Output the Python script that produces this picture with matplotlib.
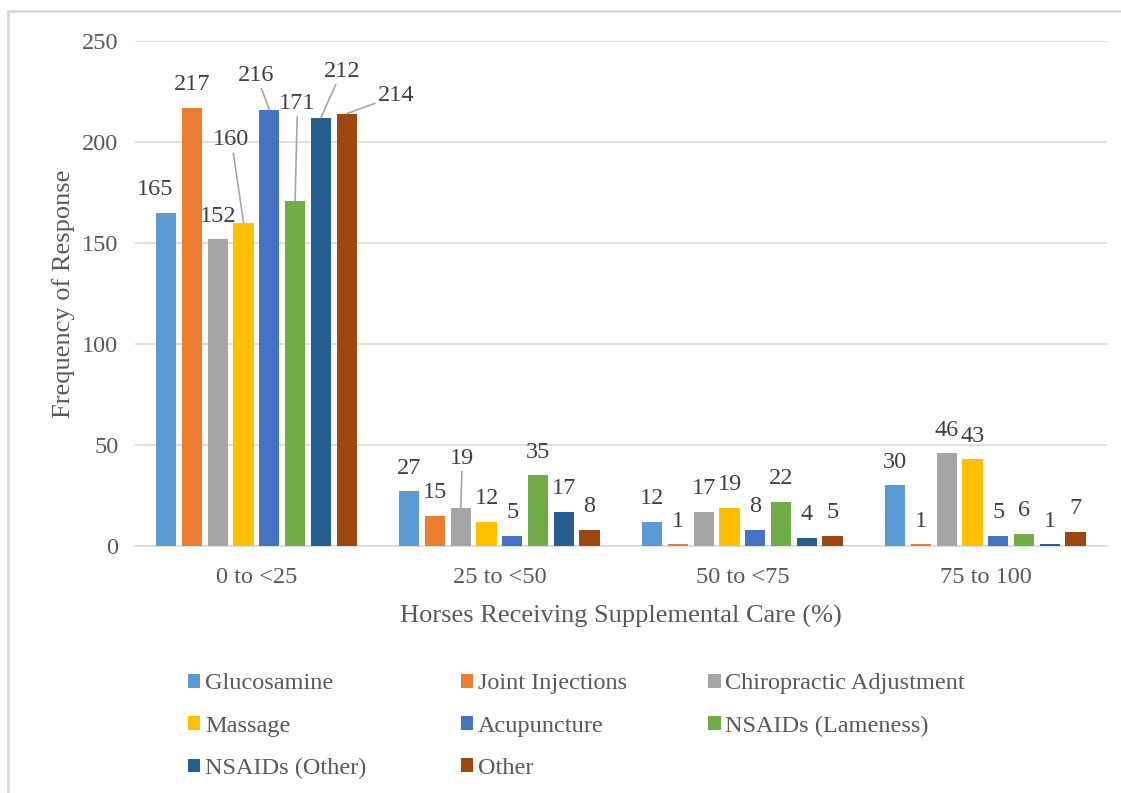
import matplotlib.pyplot as plt
import matplotlib.lines as mlines
import numpy as np

plt.rcParams['font.family'] = ['Liberation Serif', 'DejaVu Serif']

# data
groups = ['0 to <25', '25 to <50', '50 to <75', '75 to 100']
series = ['Glucosamine', 'Joint Injections', 'Chiropractic Adjustment', 'Massage',
          'Acupuncture', 'NSAIDs (Lameness)', 'NSAIDs (Other)', 'Other']
glucosamine = [165, 27, 12, 30]
joint_injections = [217, 15, 1, 1]
chiropractic = [152, 19, 17, 46]
massage = [160, 12, 19, 43]
acupuncture = [216, 5, 8, 5]
nsaids_lameness = [171, 35, 22, 6]
nsaids_other = [212, 17, 4, 1]
other = [214, 8, 5, 7]
values = [glucosamine, joint_injections, chiropractic, massage,
          acupuncture, nsaids_lameness, nsaids_other, other]
colors = ['#5B9BD5', '#ED7D31', '#A5A5A5', '#FFC000',
          '#4472C4', '#70AD47', '#255E91', '#9E480E']

# labels moved away from the bar (with leader line): (group, series) -> label centre
moved = {(0, 3): (-0.103, 201), (0, 4): (0.0, 233), (0, 5): (0.169, 219),
         (0, 6): (0.351, 235), (0, 7): (0.574, 223), (1, 2): (0.847, 43.5)}

txt = '#595959'
fs = 17.5

fig = plt.figure(figsize=(11.21, 7.93), dpi=100)
ax = fig.add_axes([0.1204, 0.3115, 0.867, 0.6368])

x = np.arange(len(groups))
step = 0.106
width = 0.083
bars = []
for i, (vals, c) in enumerate(zip(values, colors)):
    pos = x + (i - 3.5) * step
    b = ax.bar(pos, vals, width, color=c, label=series[i], zorder=3)
    bars.append(b)
    for g, (px, v) in enumerate(zip(pos, vals)):
        if (g, i) in moved:
            ax.annotate(str(v), xy=(px, v), xytext=moved[(g, i)], textcoords='data',
                        ha='center', va='center', fontsize=fs, color='#404040',
                        arrowprops=dict(arrowstyle='-', color='#A6A6A6', lw=1.2,
                                        shrinkA=0, shrinkB=0), zorder=4)
        else:
            dx = -8 if (g, i) == (0, 0) else 0
            ax.annotate(str(v), xy=(px, v), xytext=(dx, 16.5), textcoords='offset points',
                        ha='center', va='center', fontsize=fs, color='#404040', zorder=4)

ax.set_xlim(-0.5, 3.5)
ax.set_ylim(0, 250)
ax.set_yticks(np.arange(0, 251, 50))
ax.set_xticks(x)
ax.set_xticklabels(groups)
ax.tick_params(axis='both', length=0, labelsize=fs, labelcolor=txt)
ax.tick_params(axis='y', pad=12)
ax.tick_params(axis='x', pad=15)
ax.grid(axis='y', color='#D9D9D9', lw=1.2, zorder=0)
for s in ['top', 'right', 'left']:
    ax.spines[s].set_visible(False)
ax.spines['bottom'].set_color('#D9D9D9')
ax.spines['bottom'].set_linewidth(1.2)
ax.set_ylabel('Frequency of Response', fontsize=19, color=txt, labelpad=5)
ax.set_xlabel('Horses Receiving Supplemental Care (%)', fontsize=19, color=txt, labelpad=12)

# legend: three columns, filled row by row
columns = [[0, 3, 6], [1, 4, 7], [2, 5]]
col_x = [0.168, 0.411, 0.632]
for ks, cx in zip(columns, col_x):
    leg = fig.legend([bars[k] for k in ks], [series[k] for k in ks],
                     loc='upper left', bbox_to_anchor=(cx, 0.151),
                     frameon=False, fontsize=fs, handlelength=0.5, handleheight=0.5,
                     handletextpad=0.2, labelspacing=0.88,
                     borderaxespad=0, borderpad=0)
    for t in leg.get_texts():
        t.set_color(txt)

# chart area border (left and top)
fig.add_artist(mlines.Line2D([0.0075, 0.0075], [0, 0.986], color='#D9D9D9', lw=2,
                             transform=fig.transFigure))
fig.add_artist(mlines.Line2D([0.0075, 1], [0.986, 0.986], color='#D9D9D9', lw=2,
                             transform=fig.transFigure))

fig.savefig('out.png', dpi=100)
